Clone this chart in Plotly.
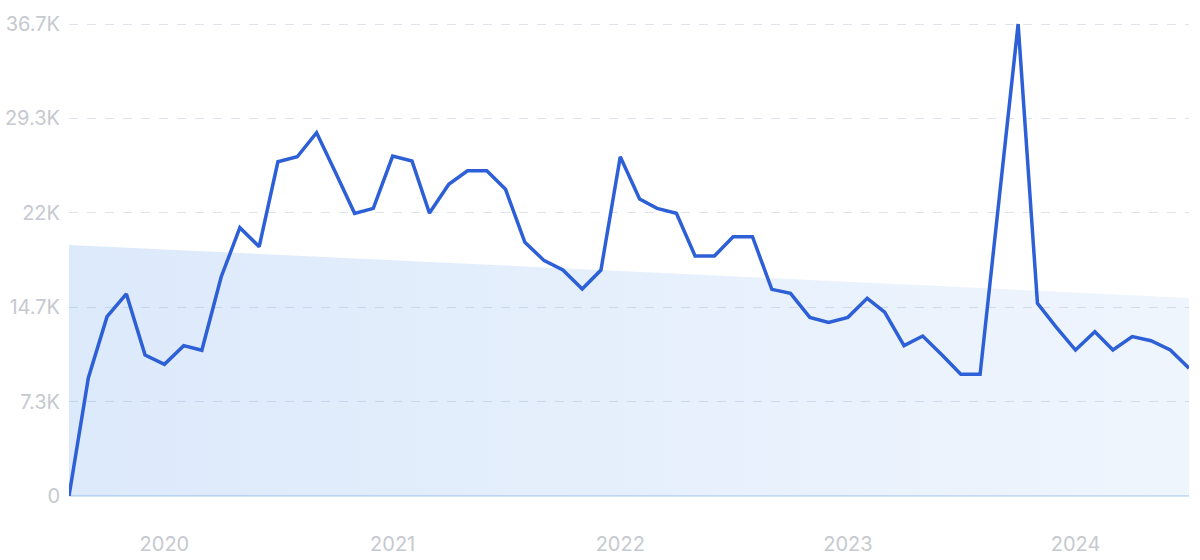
import plotly.graph_objects as go
import pandas as pd

months = pd.date_range("2019-08-01", "2024-07-01", freq="MS").strftime("%Y-%m-%d").tolist()
values = [0, 9180, 13940, 15710, 10960, 10240, 11690, 11330, 17030, 20860,
          19390, 25990, 26380, 28250, 25200, 21980, 22370, 26430, 26050, 22000,
          24240, 25290, 25290, 23850, 19730, 18300, 17570, 16090, 17570, 26380,
          23090, 22370, 21980, 18660, 18660, 20160, 20160, 16070, 15760, 13890,
          13500, 13890, 15370, 14290, 11690, 12440, 10960, 9460, 9460, 23080,
          36700, 14980, 13140, 11350, 12770, 11350, 12390, 12070, 11350, 9930]

trend_x = [months[0], months[-1]]
trend_y = [19520, 15400]

ytick_vals = [0, 7340, 14680, 22020, 29360, 36700]
ytick_text = ["0", "7.3K", "14.7K", "22K", "29.3K", "36.7K"]
xtick_vals = ["2020-01-01", "2021-01-01", "2022-01-01", "2023-01-01", "2024-01-01"]
xtick_text = ["2020", "2021", "2022", "2023", "2024"]

fig = go.Figure()
fig.add_trace(go.Scatter(
    x=trend_x, y=trend_y, mode="lines", line=dict(width=0),
    fill="tozeroy",
    fillgradient=dict(type="horizontal",
                      colorscale=[[0, "rgba(45,125,230,0.165)"],
                                  [1, "rgba(45,125,230,0.075)"]]),
    hoverinfo="skip", showlegend=False,
))
fig.add_trace(go.Scatter(
    x=months, y=values, mode="lines",
    line=dict(color="#2d5fd6", width=3.5),
    showlegend=False, cliponaxis=False,
))

fig.update_layout(
    width=1200, height=560,
    margin=dict(l=69, r=11, t=23, b=64),
    plot_bgcolor="white", paper_bgcolor="white",
    font=dict(family="Inter", size=20, color="#c6c9cf"),
)
fig.update_xaxes(
    range=[months[0], months[-1]],
    tickvals=xtick_vals, ticktext=xtick_text,
    showgrid=False, zeroline=False, showline=False, automargin=False,
    ticks="outside", ticklen=30, tickcolor="rgba(0,0,0,0)",
)
fig.update_yaxes(
    range=[0, 36780],
    tickvals=ytick_vals, ticktext=ytick_text,
    showgrid=True, gridcolor="#dfe4ec", griddash="dash", gridwidth=1,
    zeroline=True, zerolinecolor="#d3e3f8", zerolinewidth=2,
    showline=False, automargin=False,
    ticks="outside", ticklen=4, tickcolor="rgba(0,0,0,0)",
)

fig.write_html(
    "out.html",
    config={"displayModeBar": False},
    post_script="document.body.style.margin='0';document.body.style.overflow='hidden';",
)
